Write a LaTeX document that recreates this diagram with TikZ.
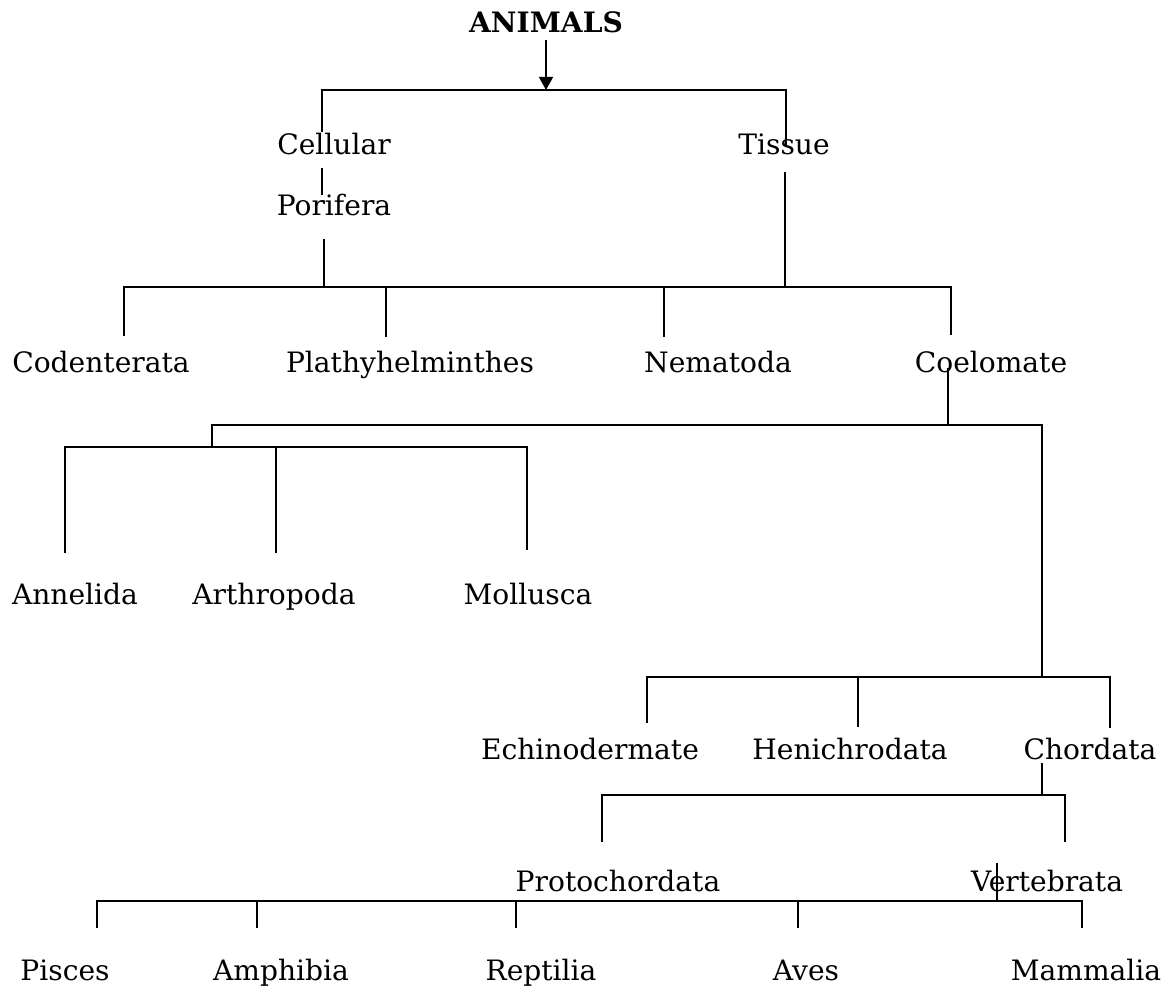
\documentclass[tikz,border=0pt]{standalone}
\usepackage{fontspec}
\setmainfont{DejaVu Serif}
\usetikzlibrary{arrows.meta}

\begin{document}
\begin{tikzpicture}[
  x=0.02cm, y=-0.02cm,
  taxon/.style={inner sep=0pt, anchor=base, font=\fontsize{16}{19}\selectfont},
  head/.style={taxon, font=\fontsize{16}{19}\selectfont\bfseries},
  link/.style={line width=1pt},
  arrow/.style={line width=1pt, -{Triangle[length=7.5pt,width=8pt]}},
]
\useasboundingbox (0,0) rectangle (1166,988);

% labels
\node[head]  (animals) at (546,32)  {ANIMALS};
\node[taxon] (cel)     at (334,154) {Cellular};
\node[taxon] (tis)     at (784,154) {Tissue};
\node[taxon] (por)     at (334,215) {Porifera};

\node[taxon] (cod) at (101,372) {Codenterata};
\node[taxon] (pla) at (410,372) {Plathyhelminthes};
\node[taxon] (nem) at (718,372) {Nematoda};
\node[taxon] (coe) at (991,372) {Coelomate};

\node[taxon] (ann) at (75,604)  {Annelida};
\node[taxon] (art) at (274,604) {Arthropoda};
\node[taxon] (mol) at (528,604) {Mollusca};

\node[taxon] (ech) at (590,759)  {Echinodermate};
\node[taxon] (hen) at (850,759)  {Henichrodata};
\node[taxon] (cho) at (1090,759) {Chordata};

\node[taxon] (pro) at (618,891)  {Protochordata};
\node[taxon] (ver) at (1047,891) {Vertebrata};

\node[taxon] (pis) at (65,980)   {Pisces};
\node[taxon] (amp) at (281,980)  {Amphibia};
\node[taxon] (rep) at (541,980)  {Reptilia};
\node[taxon] (ave) at (806,980)  {Aves};
\node[taxon] (mam) at (1086,980) {Mammalia};

% animals -> cellular / tissue
\coordinate (b1) at (546,90);
\coordinate (cel-in) at (322,132);
\coordinate (tis-in) at (786,147);
\draw[arrow, shorten <=4pt] (animals) -- (b1);
\draw[link] (cel-in) |- (b1) -| (tis-in);

\coordinate (cel-out) at (322,168);
\coordinate (por-in)  at (322,195);
\draw[link] (cel-out) -- (por-in);

% second level
\coordinate (b2) at (524,287);
\coordinate (por-out) at (324,239);
\coordinate (tis-out) at (785,172);
\draw[link] (por-out) -- (por-out |- b2);
\draw[link] (tis-out) -- (tis-out |- b2);
\coordinate (cod-in) at (124,336);
\coordinate (pla-in) at (386,337);
\coordinate (nem-in) at (664,337);
\coordinate (coe-in) at (951,335);
\draw[link] (cod-in) |- (b2) -| (coe-in);
\foreach \n in {pla,nem}
  \draw[link] (\n-in) -- (\n-in |- b2);

% coelomate
\coordinate (coe-out) at (948,368);
\coordinate (b3)  at (948,425);
\coordinate (b3a) at (212,447);
\coordinate (b4)  at (1042,677);
\draw[link] (coe-out) -- (b3);
\draw[link] (b3a) |- (b3) -| (b4);

\coordinate (ann-in) at (65,553);
\coordinate (art-in) at (276,553);
\coordinate (mol-in) at (527,550);
\draw[link] (ann-in) |- (b3a) -| (mol-in);
\draw[link] (art-in) -- (art-in |- b3a);

\coordinate (ech-in) at (647,723);
\coordinate (hen-in) at (858,727);
\coordinate (cho-in) at (1110,728);
\draw[link] (ech-in) |- (b4) -| (cho-in);
\draw[link] (hen-in) -- (hen-in |- b4);

% chordata
\coordinate (cho-out) at (1042,763);
\coordinate (b5) at (1042,795);
\coordinate (pro-in) at (602,842);
\coordinate (ver-in) at (1065,842);
\draw[link] (cho-out) -- (b5);
\draw[link] (pro-in) |- (b5) -| (ver-in);

% vertebrata
\coordinate (ver-out) at (997,863);
\coordinate (b6) at (997,901);
\draw[link] (ver-out) -- (b6);
\coordinate (pis-in) at (97,928);
\coordinate (amp-in) at (257,928);
\coordinate (rep-in) at (516,928);
\coordinate (ave-in) at (798,928);
\coordinate (mam-in) at (1082,928);
\draw[link] (pis-in) |- (b6) -| (mam-in);
\foreach \n in {amp,rep,ave}
  \draw[link] (\n-in) -- (\n-in |- b6);
\end{tikzpicture}
\end{document}
